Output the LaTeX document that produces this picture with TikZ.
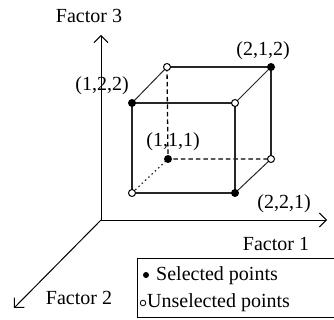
\documentclass[tikz,border=0pt]{standalone}
\usepackage{fontspec}
\setmainfont{Liberation Serif}
\usepackage{tikz}
\usetikzlibrary{arrows.meta}
\newcommand{\CubeDots}[2]{
    \foreach \i in {#1}{
        \fill[black] (#2\i) circle (4pt);
    }
}
\newcommand{\CubeRings}[2]{
    \foreach \i in {#1}{
        \filldraw[fill=white,draw=black,line width=1pt] (#2\i) circle (3.5pt);
    }
}

\begin{document}
\begin{tikzpicture}[x=1pt,y=-1pt,
    axis/.style={line width=1pt,-{Straight Barb[length=7pt,width=14pt,line width=1pt]}},
    face/.style={line width=1.5pt,draw=black!85},
    depth/.style={line width=1pt,draw=black!85},
    hidden/.style={line width=1.3pt,dash pattern=on 4.5pt off 3pt},
    lbl/.style={inner sep=0pt,font=\fontsize{20}{24}\selectfont}]
    \useasboundingbox (0,0) rectangle (334,320);
    \coordinate (O) at (101,220);
    \coordinate (X1) at (327,220);
    \coordinate (X2) at (14,308);
    \coordinate (X3) at (101,35);
    % front face
    \coordinate (C1) at (132,103);
    \coordinate (C2) at (235,103);
    \coordinate (C3) at (235,193);
    \coordinate (C4) at (132,193);
    % back face
    \coordinate (C5) at (167,67);
    \coordinate (C6) at (271,67);
    \coordinate (C7) at (271,159);
    \coordinate (C8) at (168,159);

    \draw[axis] (O) -- (X1);
    \draw[axis] (O) -- (X2);
    \draw[axis] (O) -- (X3);

    \draw[hidden] (C5) -- (C8) -- (C7);
    \draw[depth,line width=1.2pt,dash pattern=on 1.5pt off 3pt] (C4) -- (C8);
    \draw[face] (C5) -- (C6) -- (C7);
    \draw[depth] (C1) -- (C5) (C2) -- (C6) (C3) -- (C7);
    \draw[face] (C1) -- (C2) -- (C3) -- (C4) -- cycle;
    \CubeDots{1,3,6,8}{C}
    \CubeRings{2,4,5,7}{C}

    \node[lbl] (f3) at (89,16) {Factor 3};
    \node[lbl] (f1) at (276,244) {Factor 1};
    \node[lbl] (f2) at (79,298) {Factor 2};
    \node[lbl] (p212) at (263,51) {(2,1,2)};
    \node[lbl] (p122) at (102,86) {(1,2,2)};
    \node[lbl] (p111) at (173,142) {(1,1,1)};
    \node[lbl] (p221) at (284,204) {(2,2,1)};

    % legend
    \draw[line width=1pt] (137.5,258.5) rectangle (337,317);
    \fill[black] (146,275) circle (3pt);
    \filldraw[fill=white,draw=black,line width=0.8pt] (143,303) circle (2.8pt);
    \node[lbl,anchor=base west] (sel) at (156,280.5) {Selected points};
    \node[lbl,anchor=base west] (unsel) at (147,307.5) {Unselected points};
\end{tikzpicture}
\end{document}
